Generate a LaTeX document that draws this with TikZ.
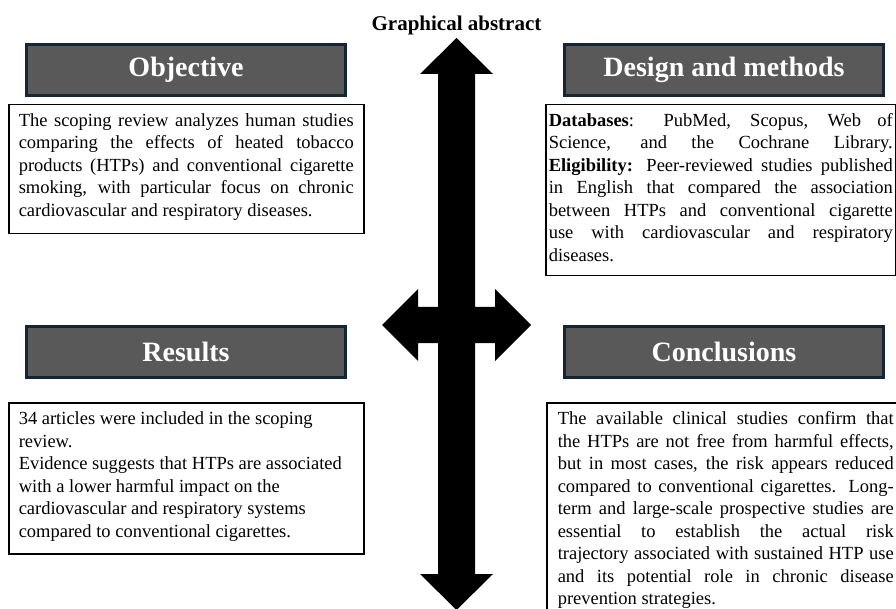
\documentclass[tikz,border=0pt]{standalone}
\usepackage{fontspec}
\setmainfont{Liberation Serif}
\usepackage{tikz}
\usetikzlibrary{calc}
\usetikzlibrary{positioning}

\definecolor{headfill}{RGB}{89,89,89}
\definecolor{headline}{RGB}{22,37,52}

% one justified line of a text box
\newcommand{\jline}[1]{\makebox[\linewidth][s]{#1}\par}
\newcommand{\bodysize}{\fontsize{18.5}{22.5}\selectfont}
% framed text: height, width, lines
\newcommand{\boxlines}[3]{\parbox[c][#1][t]{#2}{\setlength{\parskip}{0pt}\vspace{6pt}\strut#3}}

\tikzset{
  header/.style={draw=headline,line width=3pt,fill=headfill,text=white,
    minimum width=319pt,minimum height=51pt,inner sep=0pt,
    font=\fontsize{28}{32}\selectfont\bfseries},
  textframe/.style={draw=black,line width=1.5pt,anchor=north west,
    inner xsep=10pt,inner ysep=0pt,font=\bodysize},
}

\begin{document}
\begin{tikzpicture}[x=1pt,y=-1pt]
    \useasboundingbox (0,0) rectangle (896,609);
    \clip (0,0) rectangle (896,609);

    \node[font=\fontsize{21}{25}\selectfont\bfseries,anchor=base] (title) at (456.5,31) {Graphical abstract};

    % the two arrows
    \fill[black]
      (456.5,38) -- (493,74) -- (475,74) -- (475,574) -- (493,574) -- (456.5,610)
      -- (420,574) -- (438,574) -- (438,74) -- (420,74) -- cycle
      (382,325) -- (418,289) -- (418,307) -- (495,307) -- (495,289) -- (531,325)
      -- (495,361) -- (495,343) -- (418,343) -- (418,361) -- cycle
      ;

    \node[header] (obj)    at (186,70)  {Objective};
    \node[header] (design) at (724,70)  {Design and methods};
    \node[header] (res)    at (186,352) {Results};
    \node[header] (concl)  at (724,352) {Conclusions};

    \node[textframe] (objtext) at (8,104) {\boxlines{129pt}{335pt}{%
      \jline{The scoping review analyzes human studies}
      \jline{comparing the effects of heated tobacco}
      \jline{products (HTPs) and conventional cigarette}
      \jline{smoking, with particular focus on chronic}
      cardiovascular and respiratory diseases.}};

    \node[textframe,inner xsep=3pt] (designtext) at (545,104) {\boxlines{171pt}{344pt}{%
      \jline{\textbf{Databases}: PubMed, Scopus, Web of}
      \jline{Science, and the Cochrane Library.}
      \jline{\textbf{Eligibility:} Peer-reviewed studies published}
      \jline{in English that compared the association}
      \jline{between HTPs and conventional cigarette}
      \jline{use with cardiovascular and respiratory}
      diseases.}};

    \node[textframe] (restext) at (8,402) {\boxlines{151pt}{335pt}{\raggedright
      34 articles were included in the scoping\\
      review.\\
      Evidence suggests that HTPs are associated\\
      with a lower harmful impact on the\\
      cardiovascular and respiratory systems\\
      compared to conventional cigarettes.}};

    \node[textframe,inner xsep=11pt] (concltext) at (546,402) {\boxlines{216pt}{336pt}{%
      \jline{The available clinical studies confirm that}
      \jline{the HTPs are not free from harmful effects,}
      \jline{but in most cases, the risk appears reduced}
      \jline{compared to conventional cigarettes. Long-}
      \jline{term and large-scale prospective studies are}
      \jline{essential to establish the actual risk}
      \jline{trajectory associated with sustained HTP use}
      \jline{and its potential role in chronic disease}
      prevention strategies.}};

\end{tikzpicture}
\end{document}
